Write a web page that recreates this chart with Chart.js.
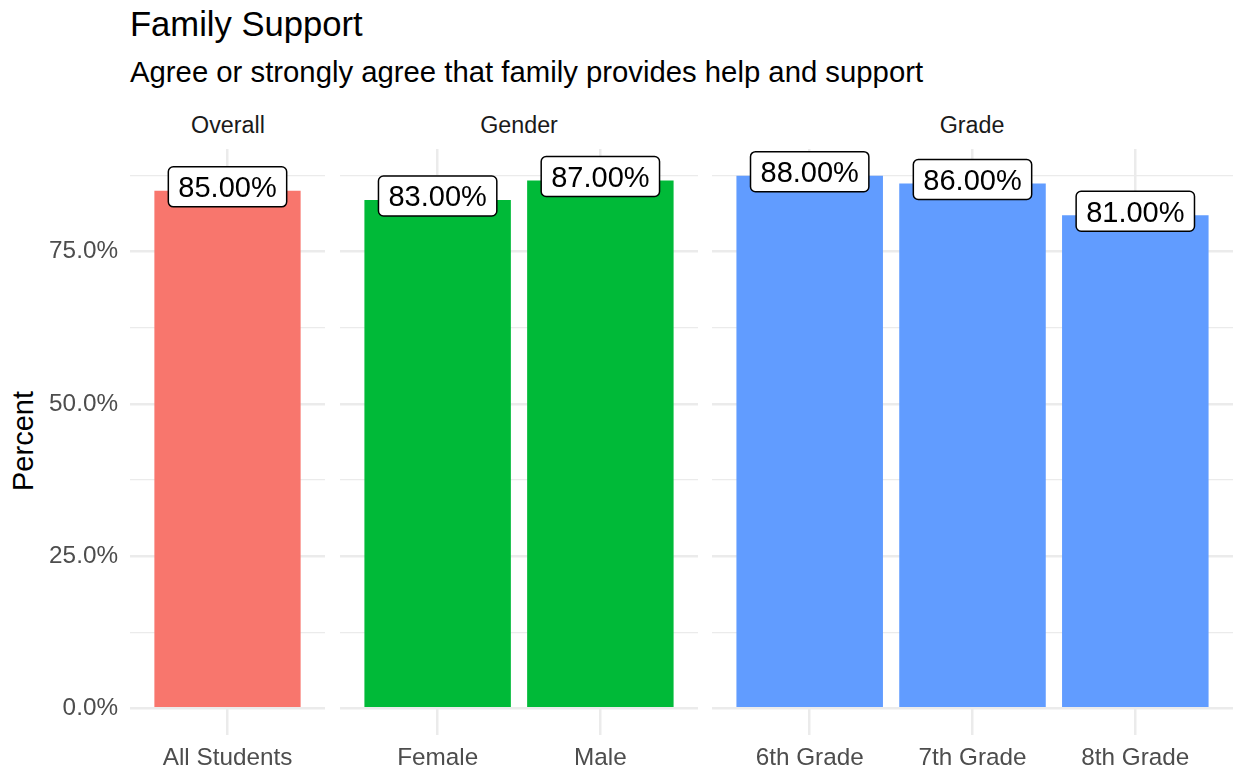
<!DOCTYPE html>
<html lang="en">

<head>
  <meta charset="UTF-8">
  <title>Family Support</title>
  <script src="https://cdn.jsdelivr.net/npm/chart.js"></script>
  <style>
    body {
      margin: 0;
      width: 1236px;
      height: 770px;
      position: relative;
      overflow: hidden;
      background: #fff;
      font-family: "Liberation Sans", Arial, sans-serif;
    }

    .txt {
      position: absolute;
      white-space: nowrap;
      color: #000;
    }

    .title { left: 130px; top: 7px; font-size: 34.6px; line-height: 35px; }
    .subtitle { left: 130px; top: 57px; font-size: 29.3px; line-height: 29px; }
    .strip { top: 114px; font-size: 23.3px; line-height: 23.3px; color: #1a1a1a; transform: translateX(-50%); }
    .ytitle { left: 23px; top: 441px; font-size: 29px; line-height: 29px; transform: translate(-50%, -50%) rotate(-90deg); }

    .panel {
      position: absolute;
      top: 0;
      height: 770px;
    }
  </style>
</head>

<body>
  <div class="txt title">Family Support</div>
  <div class="txt subtitle">Agree or strongly agree that family provides help and support</div>
  <div class="txt ytitle">Percent</div>
  <div class="txt strip" style="left:228px">Overall</div>
  <div class="txt strip" style="left:519px">Gender</div>
  <div class="txt strip" style="left:972px">Grade</div>

  <div class="panel" style="left:0; width:325px"><canvas id="overall"></canvas></div>
  <div class="panel" style="left:340px; width:358px"><canvas id="gender"></canvas></div>
  <div class="panel" style="left:712px; width:521px"><canvas id="grade"></canvas></div>

  <script>
    // data
    const overallCats = ['All Students'];
    const overallValues = [85.0];
    const overallLabels = [85];

    const genderCats = ['Female', 'Male'];
    const genderValues = [83.5, 86.7];
    const genderLabels = [83, 87];

    const gradeCats = ['6th Grade', '7th Grade', '8th Grade'];
    const gradeValues = [87.5, 86.2, 81.0];
    const gradeLabels = [88, 86, 81];

    const yMajor = [0, 25, 50, 75];
    const yMinor = [12.5, 37.5, 62.5, 87.5];

    // ggplot style expansion: 5% on y, 0.6 on discrete x
    const yTop = Math.max(...overallValues, ...genderValues, ...gradeValues);
    const yPad = yTop * 0.05;
    const xPad = 0.6;

    const FONT = '"Liberation Sans", Arial, sans-serif';
    const GRID = '#ebebeb';

    // labels in white rounded boxes (geom_label look)
    const boxLabels = {
      id: 'boxLabels',
      afterDatasetsDraw(chart, args, opts) {
        const ctx = chart.ctx;
        const meta = chart.getDatasetMeta(0);
        ctx.save();
        ctx.font = '29px ' + FONT;
        ctx.textAlign = 'center';
        ctx.textBaseline = 'alphabetic';
        meta.data.forEach((bar, i) => {
          const txt = opts.labels[i].toFixed(2) + '%';
          const w = ctx.measureText(txt).width + 20;
          const h = 40;
          const cy = bar.y - 4;
          ctx.beginPath();
          ctx.roundRect(bar.x - w / 2, cy - h / 2, w, h, 5);
          ctx.fillStyle = '#fff';
          ctx.fill();
          ctx.lineWidth = 1.5;
          ctx.strokeStyle = '#000';
          ctx.stroke();
          ctx.fillStyle = '#000';
          ctx.fillText(txt, bar.x, cy + 10.5);
        });
        ctx.restore();
      }
    };

    function makePanel(id, cats, values, labels, color, showY) {
      const n = cats.length;
      const ctx = document.getElementById(id).getContext('2d');
      return new Chart(ctx, {
        type: 'bar',
        data: {
          datasets: [{
            data: values.map((v, i) => ({ x: i, y: v })),
            backgroundColor: color,
            borderWidth: 0,
            categoryPercentage: 1,
            // one bar: the ruler falls back to the whole axis span (2*xPad units)
            barPercentage: n === 1 ? 0.9 / (2 * xPad) : 0.9
          }]
        },
        options: {
          responsive: true,
          maintainAspectRatio: false,
          animation: false,
          devicePixelRatio: 1,
          layout: { padding: { top: 149, left: 0, right: 0, bottom: 0 } },
          scales: {
            x: {
              type: 'linear',
              offset: false,
              min: -xPad,
              max: n - 1 + xPad,
              afterBuildTicks: s => { s.ticks = cats.map((_, i) => ({ value: i })); },
              ticks: {
                callback: v => cats[v],
                color: '#4d4d4d',
                font: { family: FONT, size: 24.3 },
                padding: 9,
                maxRotation: 0,
                autoSkip: false
              },
              grid: { color: GRID, lineWidth: 2.5, drawTicks: false, offset: false },
              border: { display: false },
              afterFit: s => { s.height = 35; }
            },
            y: {
              min: -yPad,
              max: yTop + yPad,
              afterBuildTicks: s => {
                s.ticks = [...yMajor, ...yMinor].sort((a, b) => a - b).map(v => ({ value: v }));
              },
              ticks: {
                display: showY,
                callback: v => yMajor.includes(v) ? v.toFixed(1) + '%' : '',
                color: '#4d4d4d',
                font: { family: FONT, size: 24.3 },
                padding: 12
              },
              grid: {
                color: GRID,
                lineWidth: c => yMajor.includes(c.tick.value) ? 2.5 : 1.3,
                drawTicks: false
              },
              border: { display: false },
              afterFit: s => { s.width = showY ? 130 : 0; }
            }
          },
          plugins: {
            legend: { display: false },
            tooltip: { enabled: false },
            boxLabels: { labels: labels }
          }
        },
        plugins: [boxLabels]
      });
    }

    makePanel('overall', overallCats, overallValues, overallLabels, '#F8766D', true);
    makePanel('gender', genderCats, genderValues, genderLabels, '#00BA38', false);
    makePanel('grade', gradeCats, gradeValues, gradeLabels, '#619CFF', false);
  </script>
</body>

</html>
